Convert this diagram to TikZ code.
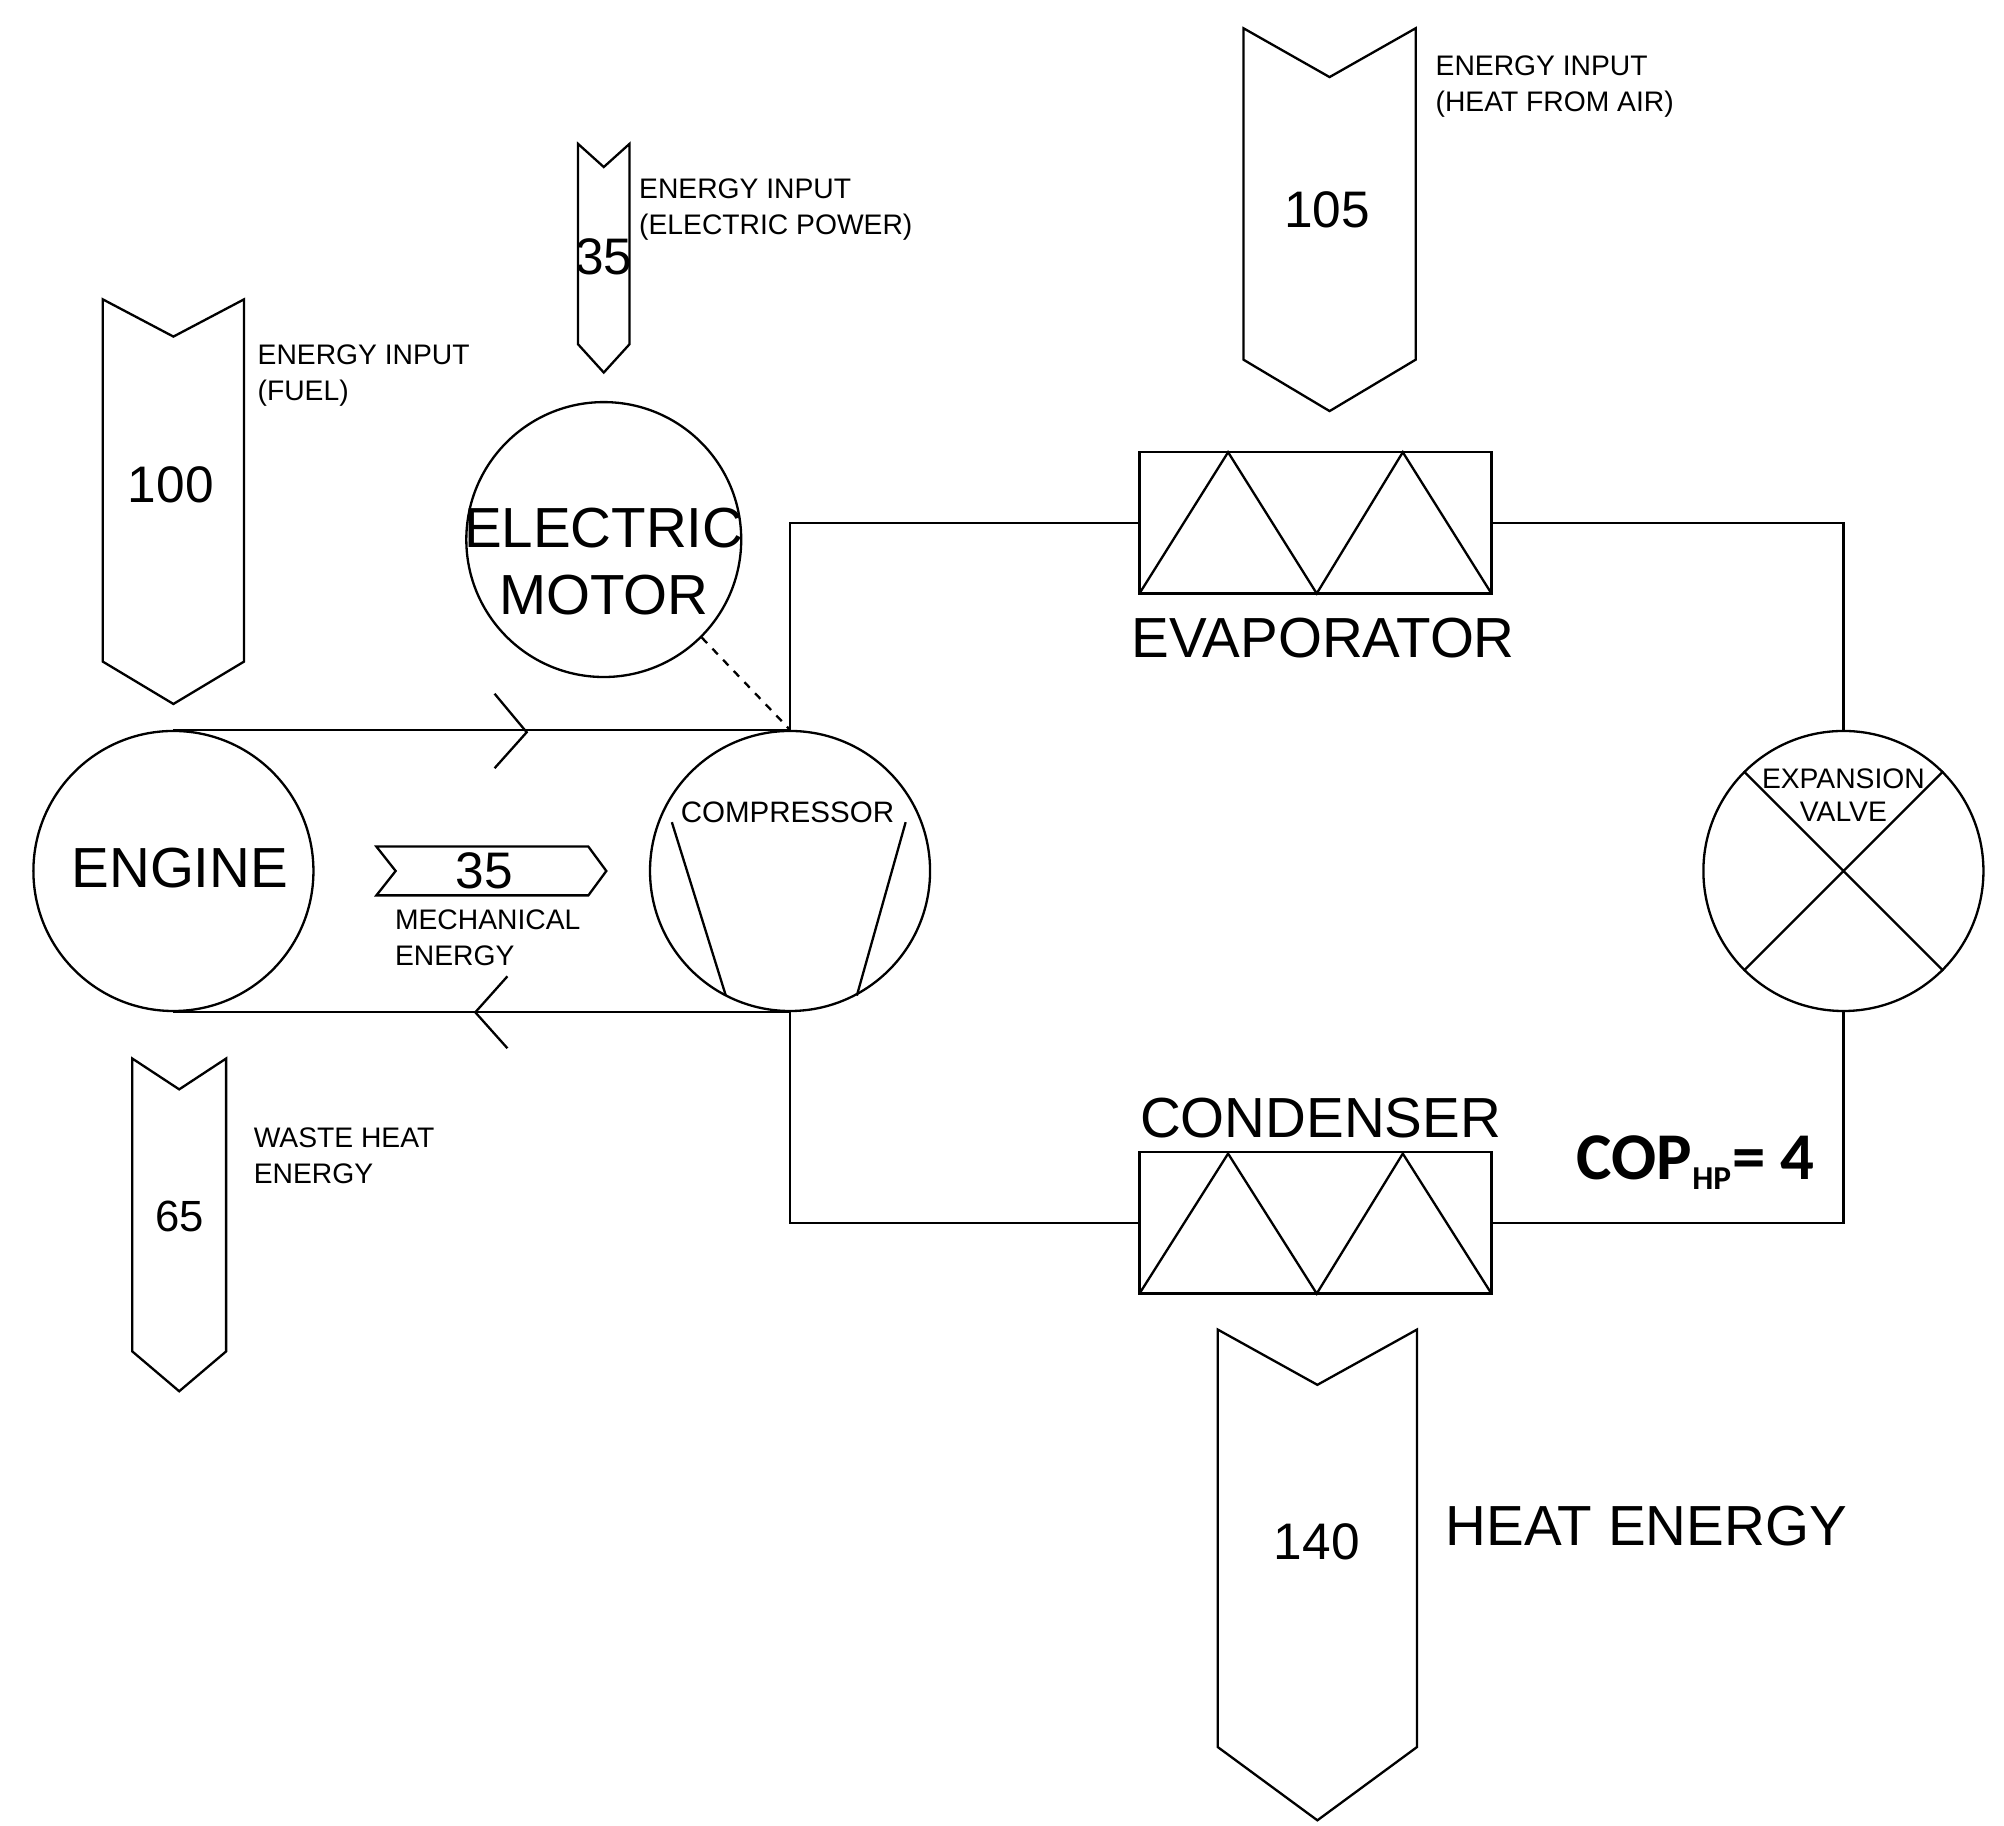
\documentclass[tikz,border=0pt]{standalone}
\usepackage{fontspec}
\setmainfont{Liberation Sans}
\newfontfamily\copfont{Carlito}
\begin{document}
\begin{tikzpicture}[x=0.5pt,y=-0.5pt,line width=0.9pt,
  small/.style={font=\fontsize{11}{14}\selectfont,align=left,anchor=west},
  big/.style={font=\fontsize{22}{26}\selectfont},
  num/.style={font=\fontsize{20}{24}\selectfont},
  ring/.style={draw,circle,minimum size=109pt,inner sep=0pt},
  hx/.style={draw,minimum width=137pt,minimum height=55pt,inner sep=0pt}]
\useasboundingbox (0,0) rectangle (1560,1421);
% downward energy arrows: left x, right x, top y, notch y, body end y, tip y
\newcommand{\energyarrow}[6]{\draw (#1,#3) -- ({(#1+#2)/2},#4) -- (#2,#3) -- (#2,#5) -- ({(#1+#2)/2},#6) -- (#1,#5) -- cycle;}
\energyarrow{80}{190}{233}{262}{515}{548}
\energyarrow{450}{490}{112}{130}{268}{290}
\energyarrow{968}{1102}{22}{60}{280}{320}
\energyarrow{103}{176}{824}{848}{1052}{1083}
\energyarrow{948}{1103}{1035}{1078}{1360}{1417}
\node[num] (n100) at (133,377) {100};
\node[num] (n35e) at (470,200) {35};
\node[num] (n105) at (1033,163) {105};
\node[font=\fontsize{17}{20}\selectfont] (n65) at (140,947) {65};
\node[num] (n140) at (1025,1200) {140};
\node[small] (lfuel) at (193,292) {ENERGY INPUT\\(FUEL)};
\node[small] (lelec) at (490,163) {ENERGY INPUT\\(ELECTRIC POWER)};
\node[small] (lair) at (1110,67) {ENERGY INPUT\\(HEAT FROM AIR)};
\node[small] (lwaste) at (190,900) {WASTE HEAT\\ENERGY};
\node[big,anchor=west] (lheat) at (1118,1188) {HEAT ENERGY};
% mechanical energy arrow
\draw (293,659) -- (458,659) -- (472,678) -- (458,697) -- (293,697) -- (308,678) -- cycle;
\node[num] (n35m) at (377,678) {35};
\node[small] (lmech) at (300,730) {MECHANICAL\\ENERGY};
% machines
\node[ring] (eng) at (135,678) {};
\node[big] at (140,676) {ENGINE};
\node[ring] (comp) at (615,678) {};
\node[font=\fontsize{11.5}{14}\selectfont] (lcomp) at (613,632) {COMPRESSOR};
\draw (523,640) -- (565,775) (705,640) -- (667,775);
\node[ring,minimum size=107pt] (mot) at (470,420) {};
\node[big,align=center] at (470,437) {ELECTRIC\\MOTOR};
\draw[dashed] (mot.-45) -- (comp.north);
\draw (eng.north) -- (comp.north) (eng.south) -- (comp.south);
\draw (385,540) -- (410,570) -- (385,598);
\draw (395,760) -- (370,788) -- (395,816);
% heat exchangers
\node[hx] (evap) at (1024,407) {};
\draw (887,462) -- (956,352) -- (1025,462) -- (1092,352) -- (1161,462);
\node[big] at (1030,497) {EVAPORATOR};
\node[hx] (cond) at (1024,952) {};
\draw (887,1007) -- (956,898) -- (1025,1007) -- (1092,898) -- (1161,1007);
\node[big] at (1028,870) {CONDENSER};
% expansion valve
\node[ring] (valve) at (1435,678) {};
\draw (valve.45) -- (valve.-135) (valve.135) -- (valve.-45);
\node[font=\fontsize{11}{13}\selectfont,align=center,inner sep=1pt] at (1435,619) {EXPANSION\\VALVE};
% refrigerant loop
\draw (comp.north) |- (evap.west);
\draw (evap.east) -| (valve.north);
\draw (valve.south) |- (cond.east);
\draw (cond.west) -| (comp.south);
\node[font=\copfont\bfseries\fontsize{26}{30}\selectfont] (cop) at (1320,905) {COP\textsubscript{\fontsize{13}{15}\selectfont HP}= 4};
\end{tikzpicture}
\end{document}
